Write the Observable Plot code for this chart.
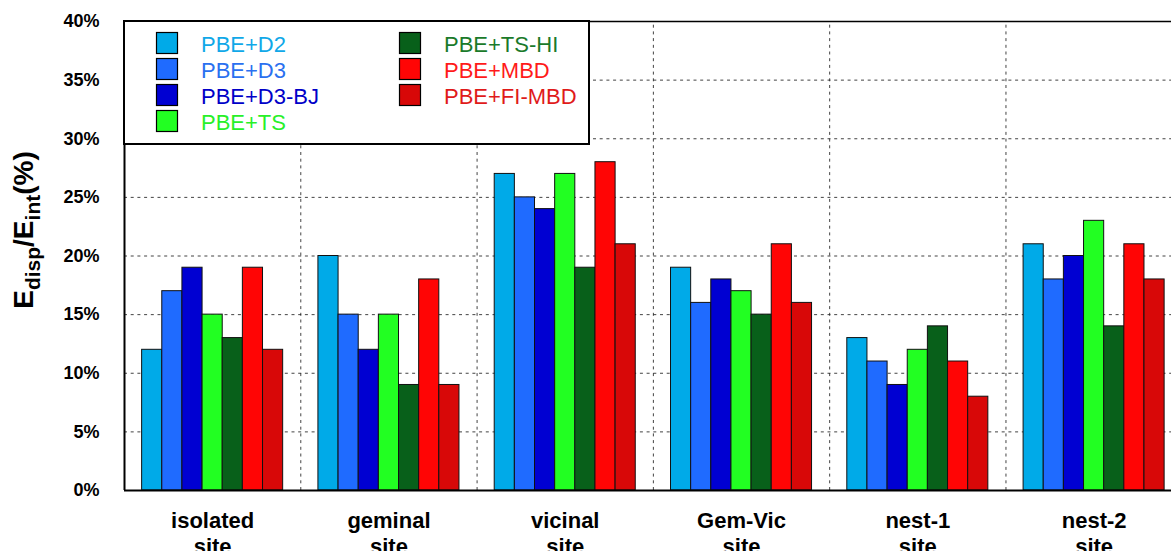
<!DOCTYPE html>
<html>
<head>
<meta charset="utf-8">
<script src="https://cdn.jsdelivr.net/npm/d3@7"></script>
<script src="https://cdn.jsdelivr.net/npm/@observablehq/plot@0.6"></script>
<style>
  html, body { margin: 0; padding: 0; background: #fff; }
  #chart { position: relative; width: 1171px; height: 551px; overflow: hidden; }
  svg { font-family: "Liberation Sans", Arial, Helvetica, sans-serif; }
</style>
</head>
<body>
<div id="chart"></div>
<script>
// ---- data ----
const sites = ["isolated\nsite", "geminal\nsite", "vicinal\nsite", "Gem-Vic\nsite", "nest-1\nsite", "nest-2\nsite"];
const methods = ["PBE+D2", "PBE+D3", "PBE+D3-BJ", "PBE+TS", "PBE+TS-HI", "PBE+MBD", "PBE+FI-MBD"];
const colors = ["#00aae8", "#1f6bff", "#0000d2", "#22ff22", "#08601a", "#ff0505", "#d80808"];
const textColors = ["#10a8e8", "#2a70f0", "#0000c8", "#28f028", "#1a7a2a", "#ff1a1a", "#e01a1a"];
const vD2    = [12, 20, 27, 19, 13, 21];
const vD3    = [17, 15, 25, 16, 11, 18];
const vD3BJ  = [19, 12, 24, 18,  9, 20];
const vTS    = [15, 15, 27, 17, 12, 23];
const vTSHI  = [13,  9, 19, 15, 14, 14];
const vMBD   = [19, 18, 28, 21, 11, 21];
const vFIMBD = [12,  9, 21, 16,  8, 18];
const yTicks = [0, 5, 10, 15, 20, 25, 30, 35, 40];

const series = [vD2, vD3, vD3BJ, vTS, vTSHI, vMBD, vFIMBD];
const groupWidth = 0.8;
const bw = groupWidth / methods.length;
const rows = [];
series.forEach((vals, j) => vals.forEach((v, i) => rows.push({
  site: i, method: methods[j], j, value: v,
  x1: i - groupWidth / 2 + j * bw, x2: i - groupWidth / 2 + (j + 1) * bw
})));
const siteRows = sites.map((s, i) => ({i, s}));

const W = 1171, H = 551;
const plot = Plot.plot({
  width: W, height: H,
  marginLeft: 124, marginRight: 0, marginTop: 21, marginBottom: 61,
  style: {fontFamily: '"Liberation Sans", Arial, Helvetica, sans-serif', background: "#fff", color: "#000", overflow: "visible"},
  x: {type: "linear", domain: [-0.5, 5.439], axis: null},
  y: {domain: [0, 40], ticks: yTicks, label: null},
  color: {domain: methods, range: colors},
  marks: [
    Plot.gridY(yTicks.filter(d => d > 0 && d < 40), {stroke: "#222", strokeOpacity: 0.85, strokeWidth: 1, strokeDasharray: "3,3.7"}),
    Plot.ruleX([0.5, 1.5, 2.5, 3.5, 4.5], {y1: 0, y2: 40, stroke: "#222", strokeOpacity: 0.85, strokeWidth: 1, strokeDasharray: "3,3.7"}),
    Plot.rectY(rows, {x1: "x1", x2: "x2", y: "value", fill: "method", stroke: "#111", strokeWidth: 1}),
    Plot.ruleY([40], {stroke: "#000", strokeWidth: 1.6}),
    Plot.ruleY([0], {stroke: "#000", strokeWidth: 2}),
    Plot.ruleX([-0.5], {y1: 0, y2: 40, stroke: "#000", strokeWidth: 2}),
    Plot.axisY({ticks: yTicks, tickSize: 0, tickPadding: 25, tickFormat: d => d + "%", fontSize: 18, fontWeight: "bold", label: null}),
    Plot.text(siteRows, {x: "i", y: 0, text: "s", dy: 19, lineAnchor: "top", lineHeight: 1.18, fontSize: 22, fontWeight: "bold", fill: "#000"})
  ]
});
document.getElementById("chart").appendChild(plot);

// ---- y-axis title ----
const svg = d3.select(plot);
const yt = svg.append("text")
  .attr("transform", "translate(33,230) rotate(-90)")
  .attr("text-anchor", "middle")
  .attr("font-weight", "bold")
  .attr("font-size", 28)
  .attr("fill", "#000");
yt.append("tspan").text("E");
yt.append("tspan").attr("font-size", 21).attr("dy", 7).text("disp");
yt.append("tspan").attr("dy", -7).text("/E");
yt.append("tspan").attr("font-size", 21).attr("dy", 7).text("int");
yt.append("tspan").attr("dy", -7).text("(%)");

// ---- legend ----
const lg = svg.append("g").attr("text-anchor", "start");
lg.append("rect").attr("x", 124).attr("y", 21).attr("width", 465).attr("height", 123)
  .attr("fill", "#fff").attr("stroke", "#000").attr("stroke-width", 2);
methods.forEach((m, k) => {
  const col = k < 4 ? 0 : 1;
  const row = k < 4 ? k : k - 4;
  const sx = col === 0 ? 156.5 : 399.5;
  const tx = col === 0 ? 201 : 444;
  const sy = 32.5 + row * 26;
  lg.append("rect").attr("x", sx).attr("y", sy).attr("width", 21).attr("height", 21)
    .attr("fill", colors[k]).attr("stroke", "#000").attr("stroke-width", 1.2);
  lg.append("text").attr("x", tx).attr("y", 52 + row * 26).attr("text-anchor", "start")
    .attr("font-size", 22).attr("fill", textColors[k]).text(m);
});
</script>
</body>
</html>
